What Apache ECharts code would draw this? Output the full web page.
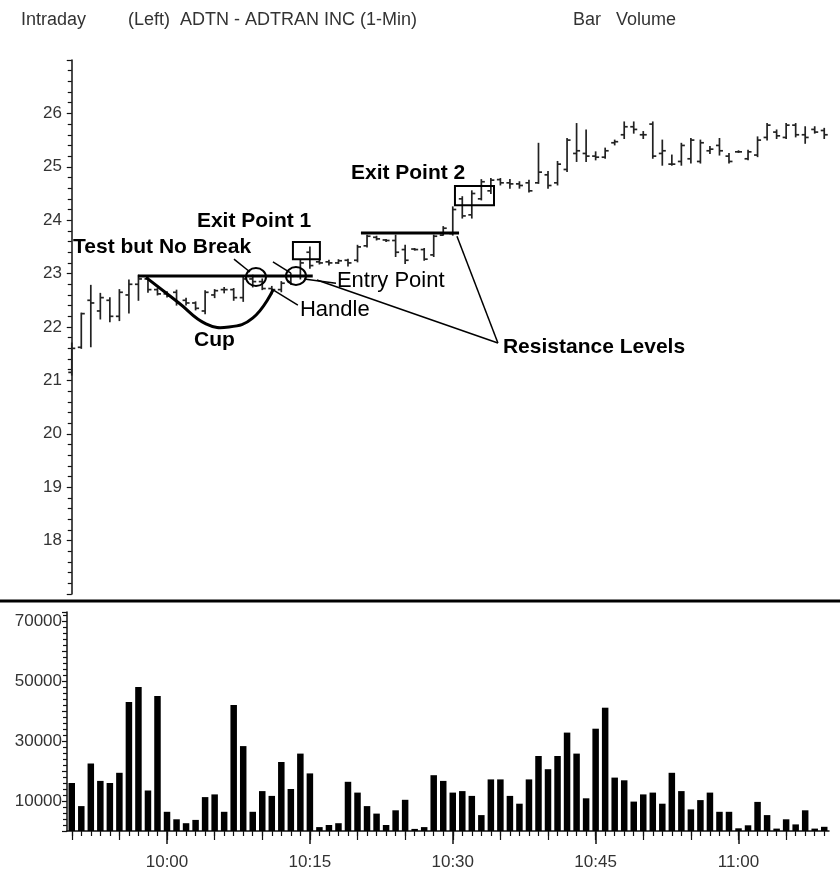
<!DOCTYPE html>
<html><head><meta charset="utf-8">
<script src="https://cdn.jsdelivr.net/npm/echarts@6/dist/echarts.min.js"></script>
<style>html,body{margin:0;padding:0;background:#fff}#c{width:840px;height:873px}</style>
</head><body><div id="c"></div>
<script>
// ---------- data ----------
const times = [];
for (let m = 50; m < 130; m++) { const h = 9 + Math.floor(m / 60), mm = m % 60; times.push(h + ':' + (mm < 10 ? '0' : '') + mm); }

const openP = [21.15,21.62,22.50,22.30,22.50,22.20,22.60,22.80,22.90,22.70,
22.62,22.65,22.50,22.45,22.30,22.60,22.70,22.70,22.55,22.90,
22.85,22.72,22.70,22.85,22.95,23.40,23.22,23.22,23.20,23.25,
23.25,23.52,23.68,23.63,23.62,23.45,23.46,23.45,23.35,23.72,
23.75,24.40,24.10,24.40,24.55,24.76,24.70,24.68,24.70,24.70,
24.85,24.70,24.95,25.25,25.25,25.20,25.18,25.45,25.60,25.75,
25.60,25.80,25.25,25.05,25.10,25.15,25.10,25.30,25.40,25.20,
25.28,25.15,25.22,25.55,25.65,25.55,25.78,25.60,25.70,25.68];
const highP = [21.70,22.26,22.78,22.63,22.55,22.70,22.88,22.97,22.92,22.72,
22.66,22.69,22.54,22.47,22.68,22.70,22.74,22.72,22.95,22.97,
22.90,22.76,22.85,23.00,23.25,23.50,23.26,23.25,23.26,23.27,
23.53,23.72,23.70,23.64,23.72,23.53,23.47,23.47,23.72,23.88,
24.25,24.44,24.55,24.76,24.78,24.78,24.76,24.72,24.75,25.44,
24.91,25.10,25.53,25.81,25.69,25.28,25.35,25.50,25.84,25.84,
25.66,25.84,25.50,25.22,25.44,25.53,25.50,25.38,25.53,25.25,
25.30,25.31,25.56,25.81,25.69,25.81,25.81,25.75,25.75,25.72];
const lowP = [21.10,21.60,21.63,22.15,22.10,22.12,22.26,22.50,22.65,22.60,
22.56,22.41,22.41,22.32,22.25,22.55,22.64,22.50,22.48,22.75,
22.70,22.62,22.66,22.80,22.90,23.10,23.18,23.16,23.19,23.14,
23.22,23.50,23.63,23.60,23.32,23.19,23.44,23.25,23.32,23.72,
23.72,24.04,24.04,24.38,24.50,24.66,24.60,24.60,24.53,24.69,
24.60,24.66,24.91,25.10,25.10,25.13,25.16,25.41,25.53,25.63,
25.53,25.16,25.03,25.03,25.03,25.07,25.07,25.25,25.22,25.07,
25.27,25.13,25.19,25.50,25.53,25.53,25.56,25.44,25.63,25.53];
const closeP = [21.60,22.25,22.45,22.55,22.20,22.65,22.80,22.90,22.70,22.62,
22.58,22.45,22.45,22.35,22.65,22.68,22.70,22.55,22.90,22.85,
22.72,22.70,22.82,22.95,23.20,23.15,23.20,23.20,23.24,23.20,
23.50,23.70,23.65,23.62,23.40,23.25,23.45,23.27,23.70,23.85,
24.20,24.08,24.50,24.72,24.75,24.70,24.68,24.65,24.55,24.90,
24.65,25.05,25.50,25.30,25.20,25.18,25.30,25.47,25.75,25.70,
25.60,25.20,25.30,25.05,25.40,25.50,25.45,25.33,25.30,25.10,
25.28,25.28,25.50,25.78,25.58,25.78,25.60,25.55,25.65,25.60];
const volume = [16000,8300,22500,16700,16000,19400,43000,48000,13500,45000,
6400,3900,2600,3700,11300,12200,6400,42000,28300,6400,
13300,11700,23000,14000,25800,19200,1300,2000,2600,16400,
12800,8300,5800,2000,6900,10400,700,1300,18600,16700,
12800,13300,11700,5300,17200,17200,11700,9100,17200,25000,
20600,25000,32800,25800,10900,34100,41100,17800,16900,9800,
12200,12800,9100,19400,13300,7200,10300,12800,6400,6400,
900,1900,9700,5300,800,3900,2200,6900,800,1400];

const priceLabels = [18,19,20,21,22,23,24,25,26];
const volumeLabels = [10000,30000,50000,70000];
const timeLabelStep = 15;

// annotations in data coordinates [minute index, price]
const resistanceLines = [[6.95, 25.3, 22.955], [30.36, 40.66, 23.76]];
const cupCurve = [[7.79,22.93],[11.25,22.45],[14.09,22.06],[16.5,22.0],[19.02,22.17],[21.12,22.69]];
const circles = [[19.34, 22.936], [23.54, 22.955]];
const boxes = [[23.22, 26.05, 23.27, 23.59], [40.23, 44.33, 24.28, 24.64]];
const pointers = [[17.03,23.27,18.71,23.03],[21.12,23.22,23.01,23.01],[21.01,22.71,23.74,22.41],
                  [24.38,22.90,27.74,22.82],[25.74,22.88,44.74,21.70],[40.44,23.70,44.74,21.70]];
const notes = [
  ['Test but No Break', 0.13, 23.50, true],
  ['Exit Point 1', 13.14, 23.985, true],
  ['Exit Point 2', 29.31, 24.884, true],
  ['Entry Point', 27.84, 22.861, false],
  ['Handle', 23.96, 22.318, false],
  ['Cup', 12.83, 21.757, true],
  ['Resistance Levels', 45.27, 21.626, true]
];

// ---------- chart ----------
const FONT = '"Liberation Sans", Arial, sans-serif';
const minutesOf = v => { const p = String(v).split(':'); return (+p[0]) * 60 + (+p[1]); };
const ohlc = times.map((t, i) => [i, openP[i], closeP[i], lowP[i], highP[i]]);

function renderOHLC(params, api) {
  const x = api.value(0);
  const o = api.coord([x, api.value(1)]);
  const c = api.coord([x, api.value(2)]);
  const l = api.coord([x, api.value(3)]);
  const h = api.coord([x, api.value(4)]);
  const st = { stroke: '#222', lineWidth: 1.7 };
  return { type: 'group', children: [
    { type: 'line', shape: { x1: h[0], y1: h[1] - 0.5, x2: l[0], y2: l[1] + 0.5 }, style: st },
    { type: 'line', shape: { x1: o[0] - 3.5, y1: o[1], x2: o[0], y2: o[1] }, style: st },
    { type: 'line', shape: { x1: c[0], y1: c[1], x2: c[0] + 3.5, y2: c[1] }, style: st }
  ]};
}

const axisCol = '#111';
const labelStyle = { color: '#333', fontSize: 17, fontFamily: FONT };

const chart = echarts.init(document.getElementById('c'), null, { renderer: 'canvas' });
const option = {
  animation: false,
  backgroundColor: '#fff',
  grid: [
    { left: 67, right: 11, top: 60, height: 534, outerBoundsMode: 'none', containLabel: false },
    { left: 67, right: 11, top: 612, bottom: 42, outerBoundsMode: 'none', containLabel: false }
  ],
  xAxis: [
    { type: 'category', gridIndex: 0, data: times, show: false, boundaryGap: true },
    { type: 'value', gridIndex: 0, min: -0.5, max: 79.5, show: false },
    { type: 'category', gridIndex: 1, data: times, position: 'bottom', boundaryGap: true,
      axisLine: { show: true, lineStyle: { color: axisCol, width: 1.5 } },
      axisTick: { show: true, interval: 0, alignWithLabel: true, length: 5, lineStyle: { color: axisCol, width: 1.2 } },
      axisLabel: { show: false }, splitLine: { show: false } },
    { type: 'category', gridIndex: 1, data: times, position: 'bottom', boundaryGap: true,
      axisLine: { show: false },
      axisTick: { show: true, alignWithLabel: true, length: 9, interval: (i, v) => minutesOf(v) % 5 === 0, lineStyle: { color: axisCol, width: 1.2 } },
      axisLabel: { show: false }, splitLine: { show: false } },
    { type: 'category', gridIndex: 1, data: times, position: 'bottom', boundaryGap: true,
      axisLine: { show: false },
      axisTick: { show: true, alignWithLabel: true, length: 13, interval: (i, v) => minutesOf(v) % timeLabelStep === 0, lineStyle: { color: axisCol, width: 1.5 } },
      axisLabel: Object.assign({ show: true, interval: (i, v) => minutesOf(v) % timeLabelStep === 0, margin: 23 }, labelStyle),
      splitLine: { show: false } }
  ],
  yAxis: [
    { type: 'value', gridIndex: 0, min: 17, max: 27, interval: 1, position: 'left',
      axisLine: { show: true, lineStyle: { color: axisCol, width: 1.5 } },
      axisTick: { show: true, inside: false, length: 5, lineStyle: { color: axisCol, width: 1.2 } },
      minorTick: { show: true, splitNumber: 5, length: 4, lineStyle: { color: axisCol, width: 1.2 } },
      splitLine: { show: false }, minorSplitLine: { show: false },
      axisLabel: Object.assign({ margin: 5, formatter: v => priceLabels.some(p => Math.abs(p - v) < 1e-6) ? String(Math.round(v)) : '' }, labelStyle) },
    { type: 'value', gridIndex: 1, min: 0, max: 73000, interval: 10000, position: 'left',
      axisLine: { show: true, lineStyle: { color: axisCol, width: 1.5 } },
      axisTick: { show: true, inside: false, length: 5, lineStyle: { color: axisCol, width: 1.2 } },
      minorTick: { show: true, splitNumber: 5, length: 4, lineStyle: { color: axisCol, width: 1.2 } },
      splitLine: { show: false }, minorSplitLine: { show: false },
      axisLabel: Object.assign({ margin: 5, formatter: v => volumeLabels.indexOf(Math.round(v)) >= 0 ? String(Math.round(v)) : '' }, labelStyle) }
  ],
  series: [
    { type: 'custom', name: 'ADTN', xAxisIndex: 0, yAxisIndex: 0, data: ohlc,
      encode: { x: 0, y: [1, 2, 3, 4] }, renderItem: renderOHLC, silent: true, clip: false },
    { type: 'bar', name: 'Volume', xAxisIndex: 2, yAxisIndex: 1, data: volume, barWidth: 6.5,
      itemStyle: { color: '#000' }, silent: true }
  ]
};
chart.setOption(option);

// ---------- annotations (positioned through the axes) ----------
const X = v => chart.convertToPixel({ xAxisIndex: 1 }, v);
const Y = v => chart.convertToPixel({ yAxisIndex: 0 }, v);
const g = [];
const hdr = { fill: '#333', fontSize: 18, fontFamily: FONT, verticalAlign: 'middle' };
g.push({ type: 'text', x: 21, y: 20, style: Object.assign({ text: 'Intraday' }, hdr) });
g.push({ type: 'text', x: 128, y: 20, style: Object.assign({ text: '(Left)  ADTN - ADTRAN INC (1-Min)' }, hdr) });
g.push({ type: 'text', x: 573, y: 20, style: Object.assign({ text: 'Bar   Volume' }, hdr) });
g.push({ type: 'line', shape: { x1: 0, y1: 601, x2: 840, y2: 601 }, style: { stroke: '#000', lineWidth: 3 } });

resistanceLines.forEach(r => g.push({ type: 'line', z: 100,
  shape: { x1: X(r[0]), y1: Y(r[2]), x2: X(r[1]), y2: Y(r[2]) }, style: { stroke: '#000', lineWidth: 3 } }));
g.push({ type: 'polyline', z: 100, shape: { points: cupCurve.map(p => [X(p[0]), Y(p[1])]), smooth: 0.45 },
  style: { stroke: '#000', lineWidth: 3, fill: null } });
circles.forEach(c => g.push({ type: 'ellipse', z: 100, shape: { cx: X(c[0]), cy: Y(c[1]), rx: 10, ry: 9 },
  style: { stroke: '#000', lineWidth: 2, fill: null } }));
boxes.forEach(b => g.push({ type: 'rect', z: 100,
  shape: { x: X(b[0]), y: Y(b[3]), width: X(b[1]) - X(b[0]), height: Y(b[2]) - Y(b[3]) },
  style: { stroke: '#000', lineWidth: 2, fill: null } }));
pointers.forEach(p => g.push({ type: 'line', z: 100,
  shape: { x1: X(p[0]), y1: Y(p[1]), x2: X(p[2]), y2: Y(p[3]) }, style: { stroke: '#000', lineWidth: 1.5 } }));
notes.forEach(n => g.push({ type: 'text', z: 101, x: X(n[1]), y: Y(n[2]),
  style: { text: n[0], fill: '#000', fontSize: n[3] ? 21 : 22, fontWeight: n[3] ? 'bold' : 'normal', fontFamily: FONT, verticalAlign: 'middle', align: 'left' } }));

chart.setOption({ graphic: { elements: g } });
</script></body></html>
